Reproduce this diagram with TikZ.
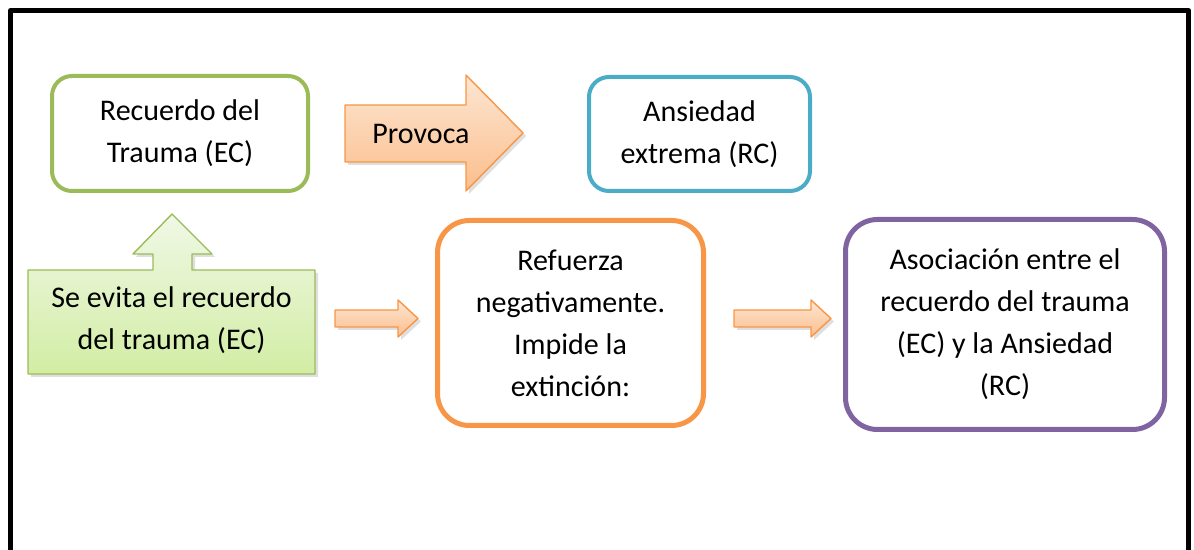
\documentclass[tikz,border=0pt]{standalone}
\usepackage{fontspec}
\setmainfont{Carlito}
\usetikzlibrary{shadows}
\definecolor{verde}{HTML}{9BBB59}
\definecolor{azul}{HTML}{4BACC6}
\definecolor{naranja}{HTML}{F79646}
\definecolor{morado}{HTML}{8064A2}
\definecolor{naranjaclaro}{HTML}{FDE6D3}
\definecolor{naranjaosc}{HTML}{FBBE8C}
\definecolor{verdeclaro}{HTML}{F0F8E6}
\definecolor{verdeosc}{HTML}{D2EDA4}
\tikzset{
  caja/.style={draw, line width=2pt, rounded corners=10pt, align=center, inner sep=0pt},
  flecha/.style={draw=naranja, line width=0.7pt, top color=naranjaclaro, bottom color=naranjaosc,
    drop shadow={opacity=0.25, shadow xshift=1.5pt, shadow yshift=-1.5pt}},
}
\begin{document}
\begin{tikzpicture}[x=0.5pt, y=-0.5pt, font=\fontsize{15}{21}\selectfont, line join=round]
	\useasboundingbox (0,0) rectangle (1194,550);
	% marco
	\draw[line width=2.5pt] (10.5,550) -- (10.5,10.5) -- (1188.5,10.5) -- (1188.5,550);
	% cajas
	\node[caja, draw=verde, minimum width=128pt, minimum height=57.5pt] (recuerdo) at (180,133.5) {Recuerdo del\\Trauma (EC)};
	\node[caja, draw=azul, minimum width=110.5pt, minimum height=57pt] (ansiedad) at (699.5,134) {Ansiedad\\extrema (RC)};
	\node[caja, draw=naranja, line width=2.5pt, rounded corners=16pt, minimum width=133pt, minimum height=102.5pt] (refuerza) at (570.5,323) {Refuerza\\negativamente.\\Impide la\\extinción:};
	\node[caja, draw=morado, line width=2.5pt, rounded corners=16pt, minimum width=159.5pt, minimum height=105pt] (asociacion) at (1005,324.5) {Asociación entre el\\recuerdo del trauma\\(EC) y la Ansiedad\\(RC)};
	% flecha grande
	\draw[flecha] (345,105) -- (466,105) -- (466,75) -- (523,133) -- (466,191) -- (466,162) -- (345,162) -- cycle;
	\node (provoca) at (421,134) {Provoca};
	% llamada verde
	\draw[draw=verde, line width=0.7pt, top color=verdeclaro, bottom color=verdeosc,
		drop shadow={opacity=0.25, shadow xshift=1.5pt, shadow yshift=-1.5pt}]
		(28,270) -- (153,270) -- (153,254) -- (133,254) -- (172,214) -- (212,254) -- (192,254)
		-- (192,270) -- (315,270) -- (315,374) -- (28,374) -- cycle;
	\node[align=center] (evita) at (171.5,320) {Se evita el recuerdo\\del trauma (EC)};
	% flechas chicas
	\draw[flecha] (335,310) -- (398,310) -- (398,300) -- (418,318.5) -- (398,337) -- (398,327) -- (335,327) -- cycle;
	\draw[flecha] (734,310) -- (811,310) -- (811,300) -- (831,318.5) -- (811,337) -- (811,327) -- (734,327) -- cycle;
\end{tikzpicture}
\end{document}
